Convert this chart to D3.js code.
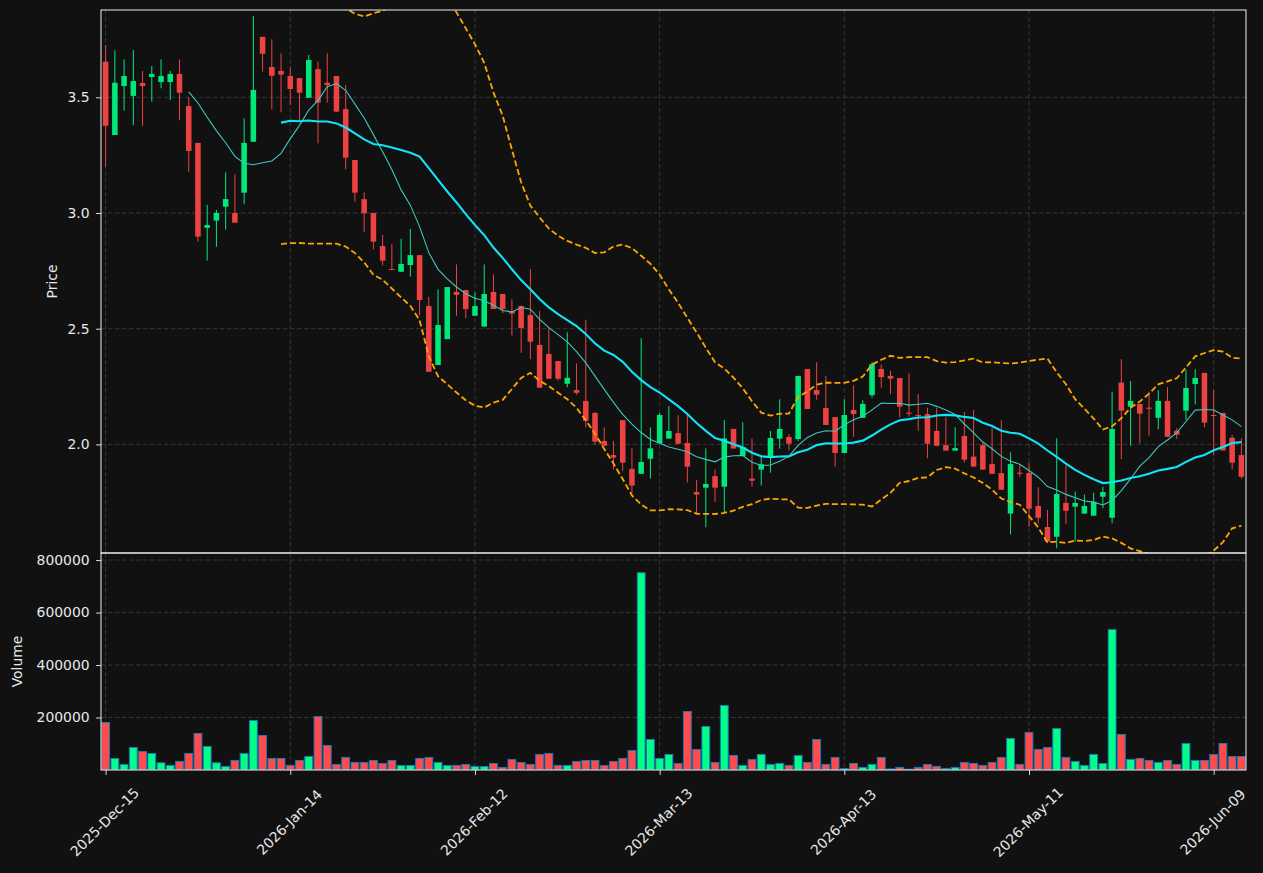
<!DOCTYPE html>
<html>
<head>
<meta charset="utf-8">
<script src="https://cdn.jsdelivr.net/npm/d3@7"></script>
<style>
  html, body { margin: 0; padding: 0; background: #111111; }
  svg { display: block; }
  text { font-family: "DejaVu Sans", sans-serif; }
</style>
</head>
<body>
<svg id="chart" width="1263" height="873"></svg>
<script>
// ---------------- DATA ----------------
const tickIndex  = [0, 20, 40, 60, 80, 100, 120];
const tickLabels = ["2025-Dec-15", "2026-Jan-14", "2026-Feb-12", "2026-Mar-13", "2026-Apr-13", "2026-May-11", "2026-Jun-09"];

const openP = [3.654,3.337,3.549,3.506,3.562,3.588,3.566,3.566,3.601,3.462,
  3.303,2.936,2.967,3.027,3.000,3.088,3.308,3.761,3.631,3.614,
  3.592,3.583,3.498,3.622,3.563,3.592,3.449,3.229,3.060,3.000,
  2.857,2.758,2.746,2.775,2.818,2.598,2.343,2.455,2.659,2.667,
  2.556,2.509,2.659,2.650,2.577,2.598,2.559,2.430,2.391,2.360,
  2.262,2.235,2.188,2.136,2.015,1.954,2.105,1.894,1.873,1.938,
  2.005,2.025,2.049,2.006,1.794,1.813,1.863,1.817,2.067,1.950,
  1.852,1.891,1.947,2.025,2.032,2.023,2.326,2.235,2.157,2.118,
  1.963,2.149,2.115,2.213,2.326,2.296,2.287,2.137,2.127,2.131,
  2.058,1.997,1.973,2.036,1.947,1.997,1.915,1.876,1.701,1.878,
  1.876,1.734,1.643,1.601,1.747,1.731,1.701,1.692,1.774,1.683,
  2.267,2.163,2.175,2.159,2.115,2.188,2.059,2.146,2.261,2.309,
  2.127,2.136,2.029,1.954];
const highP = [3.726,3.704,3.664,3.704,3.614,3.635,3.664,3.614,3.664,3.500,
  3.303,3.035,3.013,3.176,3.167,3.409,3.851,3.761,3.751,3.690,
  3.628,3.583,3.683,3.654,3.690,3.592,3.553,3.229,3.089,3.000,
  2.905,2.865,2.888,2.931,2.818,2.638,2.670,2.680,2.778,2.667,
  2.657,2.778,2.735,2.650,2.627,2.601,2.757,2.577,2.506,2.360,
  2.484,2.350,2.538,2.140,2.074,2.015,2.105,1.983,2.459,2.074,
  2.136,2.166,2.126,2.131,1.846,1.983,1.892,2.105,2.067,2.096,
  2.026,1.947,2.058,2.195,2.045,2.296,2.326,2.355,2.296,2.118,
  2.195,2.255,2.191,2.355,2.346,2.319,2.287,2.307,2.217,2.159,
  2.159,2.117,2.074,2.141,2.149,2.007,2.071,2.105,1.966,1.915,
  1.921,1.815,1.717,2.026,1.911,1.796,1.783,1.791,1.817,2.228,
  2.368,2.274,2.175,2.228,2.235,2.247,2.070,2.322,2.325,2.309,
  2.235,2.136,2.041,2.026];
const lowP = [3.200,3.337,3.442,3.380,3.377,3.481,3.539,3.488,3.401,3.178,
  2.876,2.794,2.854,2.928,2.958,3.038,3.308,3.611,3.448,3.435,
  3.467,3.399,3.498,3.301,3.477,3.438,3.189,3.049,2.917,2.843,
  2.774,2.755,2.746,2.725,2.558,2.314,2.343,2.455,2.556,2.545,
  2.556,2.509,2.585,2.567,2.470,2.396,2.368,2.245,2.284,2.275,
  2.247,2.215,2.074,1.997,1.994,1.892,1.885,1.789,1.873,1.852,
  2.005,2.025,2.003,1.836,1.695,1.642,1.752,1.702,1.982,1.950,
  1.817,1.822,1.878,1.982,1.974,2.015,2.153,2.193,2.084,1.904,
  1.963,2.033,2.115,2.202,2.245,2.217,2.117,2.120,2.059,1.940,
  1.994,1.973,1.973,1.921,1.904,1.891,1.873,1.804,1.611,1.860,
  1.644,1.659,1.573,1.551,1.656,1.580,1.701,1.692,1.724,1.659,
  1.936,1.994,2.005,2.038,2.065,2.033,2.023,2.105,2.173,2.074,
  1.953,1.974,1.892,1.852];
const closeP = [3.377,3.563,3.592,3.570,3.549,3.601,3.592,3.601,3.520,3.268,
  2.898,2.948,3.000,3.060,2.958,3.303,3.532,3.688,3.593,3.598,
  3.536,3.520,3.661,3.477,3.553,3.438,3.239,3.088,2.999,2.876,
  2.794,2.755,2.780,2.818,2.624,2.314,2.516,2.680,2.646,2.585,
  2.598,2.650,2.585,2.585,2.565,2.503,2.444,2.245,2.284,2.284,
  2.288,2.223,2.102,2.012,1.994,1.943,1.921,1.822,1.924,1.983,
  2.127,2.058,2.003,1.904,1.783,1.829,1.813,2.026,1.982,1.989,
  1.843,1.914,2.028,2.067,2.003,2.296,2.153,2.215,2.084,1.963,
  2.127,2.131,2.175,2.347,2.291,2.284,2.163,2.133,2.123,2.003,
  1.994,1.973,1.984,1.934,1.904,1.891,1.873,1.804,1.915,1.873,
  1.722,1.683,1.580,1.786,1.713,1.747,1.734,1.752,1.794,2.067,
  2.146,2.188,2.133,2.154,2.188,2.033,2.042,2.244,2.287,2.094,
  2.123,1.974,1.921,1.860];
const volume = [181000,44000,21200,85900,70700,63000,27500,17400,32600,63000,
  139200,89700,27500,13600,36400,63000,188600,131500,44000,44000,
  17400,36400,51600,203800,93500,21200,47800,28800,28800,36400,
  25000,36400,17400,17400,44000,47800,28800,17400,17400,21200,
  13600,13600,25000,9800,40200,28800,21200,59200,63000,17400,
  17400,32600,36400,36400,17400,32600,44000,74500,751700,116300,
  44000,59200,25000,222900,78300,165800,28800,245700,55400,17400,
  40200,59200,21200,25000,17400,55400,28800,116300,21200,47800,
  5000,25000,9800,21200,47800,4000,9800,3000,9800,21200,
  13600,6000,9800,28800,25000,17400,28800,47800,120100,21200,
  143000,78300,85900,158200,47800,32600,17400,59200,25000,534900,
  135400,40200,44000,36400,28800,36400,21200,101100,36400,36400,
  59200,101100,51600,51600];
const priceTicks  = [2.0, 2.5, 3.0, 3.5];
const volumeTicks = [200000, 400000, 600000, 800000];

// ---------------- BUILD ----------------
const N = closeP.length;
const bars = d3.range(N).map(i => ({i, o: openP[i], h: highP[i], l: lowP[i], c: closeP[i], v: volume[i]}));

function rolling(arr, w, fn) {
  return arr.map((_, i) => i < w - 1 ? null : fn(arr.slice(i - w + 1, i + 1)));
}
const ma10 = rolling(closeP, 10, s => d3.mean(s));
const ma20 = rolling(closeP, 20, s => d3.mean(s));
const sd20 = rolling(closeP, 20, s => { const m = d3.mean(s); return Math.sqrt(d3.mean(s, v => (v - m) * (v - m))); });
const bbUp = ma20.map((m, i) => m == null ? null : m + 2 * sd20[i]);
const bbLo = ma20.map((m, i) => m == null ? null : m - 2 * sd20[i]);

const L = 101, R = 1246, PT = 10, PB = 553, VT = 553, VB = 770;
const svg = d3.select("#chart");
svg.append("rect").attr("width", 1263).attr("height", 873).attr("fill", "#111111");

const x = d3.scaleLinear().domain([-0.5, N - 0.5]).range([L, R]);
const step = x(1) - x(0);
const yP = d3.scaleLinear().domain([1.5307, 3.8773]).range([PB, PT]);
const yV = d3.scaleLinear().domain([0, d3.max(volume) * 1.1]).range([VB, VT]);

const UP_C = "#00e87a", DN_C = "#ec4242";
const UP_V = "#00ff88", DN_V = "#ff4b4b";
const GRID = "#3a3a3a", SPINE = "#f0f0f0", TXT = "#e8e8e8";

const defs = svg.append("defs");
defs.append("clipPath").attr("id", "clipP").append("rect").attr("x", L).attr("y", PT).attr("width", R - L).attr("height", PB - PT);
defs.append("clipPath").attr("id", "clipV").append("rect").attr("x", L).attr("y", VT).attr("width", R - L).attr("height", VB - VT);

// grids
const gGrid = svg.append("g").attr("stroke", GRID).attr("stroke-width", 0.9).attr("stroke-dasharray", "4.5,2.5");
tickIndex.forEach(t => {
  gGrid.append("line").attr("x1", x(t)).attr("x2", x(t)).attr("y1", PT).attr("y2", PB);
  gGrid.append("line").attr("x1", x(t)).attr("x2", x(t)).attr("y1", VT).attr("y2", VB);
});
priceTicks.forEach(t => gGrid.append("line").attr("x1", L).attr("x2", R).attr("y1", yP(t)).attr("y2", yP(t)));
volumeTicks.forEach(t => gGrid.append("line").attr("x1", L).attr("x2", R).attr("y1", yV(t)).attr("y2", yV(t)));

// candles
const gC = svg.append("g").attr("clip-path", "url(#clipP)");
const bw = step * 0.6;
gC.selectAll("line.wick").data(bars).join("line")
  .attr("x1", d => x(d.i)).attr("x2", d => x(d.i))
  .attr("y1", d => yP(d.h)).attr("y2", d => yP(d.l))
  .attr("stroke", d => d.c >= d.o ? UP_C : DN_C).attr("stroke-width", 1);
gC.selectAll("rect.body").data(bars).join("rect")
  .attr("x", d => x(d.i) - bw / 2).attr("width", bw)
  .attr("y", d => yP(Math.max(d.o, d.c)))
  .attr("height", d => Math.max(1, Math.abs(yP(d.o) - yP(d.c))))
  .attr("fill", d => d.c >= d.o ? UP_C : DN_C);

// lines
const lineGen = arr => d3.line().defined((d, i) => arr[i] != null).x((d, i) => x(i)).y((d, i) => yP(arr[i]))(arr);
const gL = svg.append("g").attr("clip-path", "url(#clipP)").attr("fill", "none");
gL.append("path").attr("d", lineGen(bbUp)).attr("stroke", "#ffa500").attr("stroke-width", 1.8).attr("stroke-dasharray", "6,3");
gL.append("path").attr("d", lineGen(bbLo)).attr("stroke", "#ffa500").attr("stroke-width", 1.8).attr("stroke-dasharray", "6,3");
gL.append("path").attr("d", lineGen(ma10)).attr("stroke", "#3cc9be").attr("stroke-width", 1.1);
gL.append("path").attr("d", lineGen(ma20)).attr("stroke", "#12e4f7").attr("stroke-width", 2.1);

// volume
const vw = step * 0.85;
svg.append("g").attr("clip-path", "url(#clipV)").selectAll("rect").data(bars).join("rect")
  .attr("x", d => x(d.i) - vw / 2).attr("width", vw)
  .attr("y", d => yV(d.v)).attr("height", d => yV(0) - yV(d.v))
  .attr("fill", d => d.c >= d.o ? UP_V : DN_V)
  .attr("stroke", "#1f77b4").attr("stroke-width", 1);

// spines
const gS = svg.append("g").attr("fill", "none").attr("stroke", SPINE).attr("stroke-width", 1);
gS.append("rect").attr("x", L).attr("y", PT).attr("width", R - L).attr("height", PB - PT);
gS.append("rect").attr("x", L).attr("y", VT).attr("width", R - L).attr("height", VB - VT);

// axes
const fs = 13.9;
const axP = svg.append("g").attr("transform", `translate(${L},0)`)
  .call(d3.axisLeft(yP).tickValues(priceTicks).tickFormat(d3.format(".1f")).tickSize(4.9).tickPadding(6.5));
const axV = svg.append("g").attr("transform", `translate(${L},0)`)
  .call(d3.axisLeft(yV).tickValues(volumeTicks).tickFormat(d3.format("d")).tickSize(4.9).tickPadding(6.5));
const axX = svg.append("g").attr("transform", `translate(0,${VB})`)
  .call(d3.axisBottom(x).tickValues(tickIndex).tickFormat((d, i) => tickLabels[i]).tickSize(4.9));
[axP, axV, axX].forEach(a => {
  a.select(".domain").remove();
  a.selectAll(".tick line").attr("stroke", SPINE).attr("stroke-width", 0.9);
  a.selectAll(".tick text").attr("fill", TXT).style("font-size", fs + "px").style("font-family", "DejaVu Sans");
});
axX.selectAll(".tick text")
  .attr("y", 0).attr("dy", 0)
  .attr("text-anchor", "middle").attr("dominant-baseline", "central")
  .attr("transform", "translate(-1.5,52) rotate(-45)");

// axis labels
svg.append("text").attr("transform", `translate(52,${(PT + PB) / 2}) rotate(-90)`)
  .attr("text-anchor", "middle").attr("dominant-baseline", "central")
  .attr("fill", TXT).style("font-size", fs + "px").text("Price");
svg.append("text").attr("transform", `translate(17,${(VT + VB) / 2}) rotate(-90)`)
  .attr("text-anchor", "middle").attr("dominant-baseline", "central")
  .attr("fill", TXT).style("font-size", fs + "px").text("Volume");
</script>
</body>
</html>
